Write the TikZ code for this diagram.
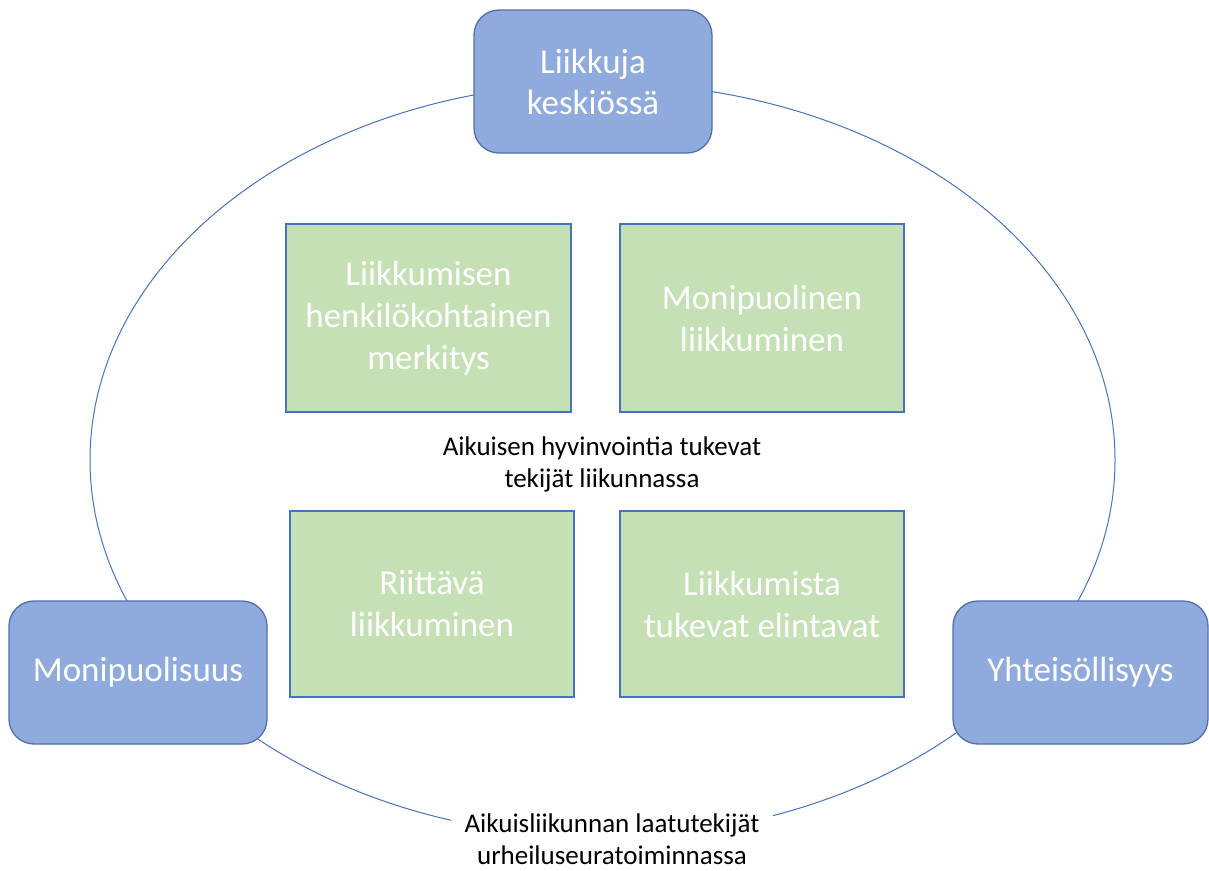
\documentclass[tikz,border=0pt]{standalone}
\usepackage{fontspec}
\setmainfont{Carlito}
\definecolor{bluefill}{HTML}{8FAADC}
\definecolor{blueedge}{HTML}{4F70AD}
\definecolor{greenfill}{HTML}{C5E0B4}
\definecolor{lineblue}{HTML}{4472C4}
\begin{document}
\begin{tikzpicture}[x=1pt,y=-1pt,
  bluebox/.style={draw=blueedge, line width=1.3pt, fill=bluefill, rounded corners=25pt,
    text=white, align=center, inner sep=0pt, font=\fontsize{35}{41}\selectfont},
  greenbox/.style={draw=lineblue, line width=1.2pt, fill=greenfill, text=white,
    align=center, inner sep=0pt, font=\fontsize{35}{42}\selectfont},
  caption/.style={text=black, align=center, inner sep=2pt, font=\fontsize{27}{32}\selectfont}]
\useasboundingbox (0,0) rectangle (1209,870);
\draw[lineblue, line width=1pt] (602.5,460) ellipse [x radius=512.5, y radius=377];
\node[bluebox, minimum width=238pt, minimum height=143pt] (top) at (593,81.5) {Liikkuja\\keskiössä};
\node[bluebox, minimum width=258pt, minimum height=143pt] (left) at (138,672.5) {Monipuolisuus};
\node[bluebox, minimum width=255pt, minimum height=143pt] (right) at (1080.5,672.5) {Yhteisöllisyys};
\node[greenbox, minimum width=285pt, minimum height=188pt] (g1) at (428.5,318) {Liikkumisen\\henkilökohtainen\\merkitys};
\node[greenbox, minimum width=284pt, minimum height=188pt] (g2) at (762,318) {Monipuolinen\\liikkuminen};
\node[greenbox, minimum width=284pt, minimum height=186pt] (g3) at (432,604) {Riittävä\\liikkuminen};
\node[greenbox, minimum width=284pt, minimum height=186pt] (g4) at (762,604) {Liikkumista\\tukevat elintavat};
\node[caption] (mid) at (602,464) {Aikuisen hyvinvointia tukevat\\tekijät liikunnassa};
\node[caption, fill=white, inner xsep=14pt, inner ysep=0pt] (bottom) at (612,839) {Aikuisliikunnan laatutekijät\\urheiluseuratoiminnassa};
\end{tikzpicture}
\end{document}
